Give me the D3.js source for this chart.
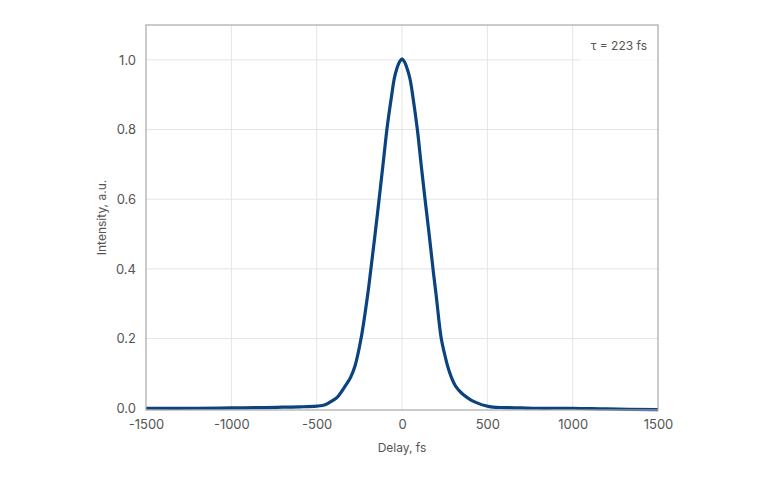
<!DOCTYPE html>
<html>
<head>
<meta charset="utf-8">
<script src="https://cdn.jsdelivr.net/npm/d3@7"></script>
<style>
  body { margin: 0; background: #fff; }
  text { font-family: Inter, "Open Sans", sans-serif; fill: #555; }
</style>
</head>
<body>
<div id="chart"></div>
<script>
// delay (fs) and normalised intensity
var delays = [-1500, -1200, -1000, -800, -700, -600, -500, -450, -400, -380, -350, -330, -315, -300, -275, -240, -200, -183, -160, -133, -110, -86, -60, -45, -30, -15, 0, 15, 30, 47, 65, 90, 112, 135, 160, 184, 200, 230, 250, 268, 290, 316, 350, 379, 410, 447, 490, 533, 600, 700, 800, 1000, 1200, 1500];
var intensity = [0.0, 0.0, 0.001, 0.002, 0.003, 0.004, 0.006, 0.010, 0.024, 0.031, 0.051, 0.066, 0.077, 0.09, 0.122, 0.2, 0.33, 0.397, 0.49, 0.605, 0.705, 0.81, 0.9, 0.947, 0.975, 0.994, 1.003, 0.994, 0.975, 0.945, 0.89, 0.8, 0.7, 0.6, 0.495, 0.39, 0.325, 0.2, 0.155, 0.12, 0.088, 0.062, 0.043, 0.032, 0.022, 0.014, 0.007, 0.003, 0.002, 0.001, 0.0, 0.0, -0.002, -0.004];
var xTicks = [-1500, -1000, -500, 0, 500, 1000, 1500];
var yTicks = [0, 0.2, 0.4, 0.6, 0.8, 1.0];
var pulseLabel = "τ = 223 fs";

const width = 768, height = 480;
const plotL = 146, plotR = 658, plotT = 25, plotB = 410;

const svg = d3.select("#chart").append("svg")
  .attr("width", width)
  .attr("height", height);

const x = d3.scaleLinear().domain([-1500, 1500]).range([plotL, plotR]);
const y = d3.scaleLinear().domain([-0.005, 1.1]).range([plotB, plotT]);

// grid
svg.append("g")
  .selectAll("line")
  .data(xTicks.slice(1, -1))
  .enter().append("line")
  .attr("x1", d => x(d)).attr("x2", d => x(d))
  .attr("y1", plotT).attr("y2", plotB)
  .attr("stroke", "#e4e4e4").attr("stroke-width", 1);

svg.append("g")
  .selectAll("line")
  .data(yTicks.slice(1))
  .enter().append("line")
  .attr("x1", plotL).attr("x2", plotR)
  .attr("y1", d => y(d)).attr("y2", d => y(d))
  .attr("stroke", "#e4e4e4").attr("stroke-width", 1);

// axes (labels only, the frame is drawn below); plain hyphen for negatives like the original
const xAxis = d3.axisBottom(x).tickValues(xTicks).tickSize(0).tickPadding(10).tickFormat(d => String(d));
svg.append("g")
  .attr("transform", "translate(0," + plotB + ")")
  .call(xAxis)
  .call(g => g.select(".domain").remove())
  .selectAll("text")
  .style("font-size", "13px")
  .style("font-family", "Inter, sans-serif")
  .attr("fill", "#555");

const yAxis = d3.axisLeft(y).tickValues(yTicks).tickSize(0).tickPadding(10).tickFormat(d3.format(".1f"));
svg.append("g")
  .attr("transform", "translate(" + plotL + ",0)")
  .call(yAxis)
  .call(g => g.select(".domain").remove())
  .selectAll("text")
  .style("font-size", "13px")
  .style("font-family", "Inter, sans-serif")
  .attr("fill", "#555");

// curve
const line = d3.line()
  .x((d, i) => x(delays[i]))
  .y(d => y(d))
  .curve(d3.curveCatmullRom.alpha(0.5));

svg.append("path")
  .datum(intensity)
  .attr("d", line)
  .attr("fill", "none")
  .attr("stroke", "#0b437f")
  .attr("stroke-width", 3.2)
  .attr("stroke-linejoin", "round");

// annotation box
svg.append("rect")
  .attr("x", 580).attr("y", plotT + 1)
  .attr("width", plotR - 581).attr("height", 42)
  .attr("fill", "#fff").attr("opacity", 0.8);

svg.append("text")
  .attr("x", 647).attr("y", 50)
  .attr("text-anchor", "end")
  .style("font-size", "12px")
  .text(pulseLabel);

// frame
svg.append("rect")
  .attr("x", plotL).attr("y", plotT)
  .attr("width", plotR - plotL).attr("height", plotB - plotT)
  .attr("fill", "none")
  .attr("stroke", "#a8a8a8").attr("stroke-width", 1.2);

// axis titles
svg.append("text")
  .attr("x", (plotL + plotR) / 2).attr("y", 452)
  .attr("text-anchor", "middle")
  .style("font-size", "12px")
  .text("Delay, fs");

svg.append("text")
  .attr("transform", "translate(106," + (plotT + plotB) / 2 + ") rotate(-90)")
  .attr("text-anchor", "middle")
  .style("font-size", "12px")
  .text("Intensity, a.u.");
</script>
</body>
</html>
